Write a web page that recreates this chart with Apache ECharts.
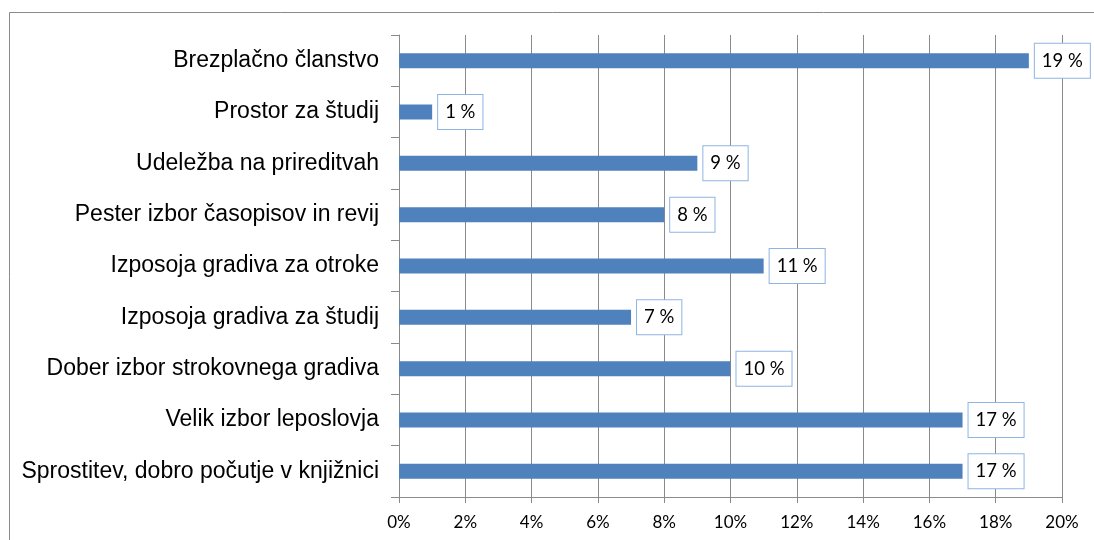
<!DOCTYPE html>
<html>
<head>
<meta charset="utf-8">
<script src="https://cdn.jsdelivr.net/npm/echarts@6/dist/echarts.min.js"></script>
<style>
  html, body { margin: 0; padding: 0; background: #fff; }
  #chart { width: 1094px; height: 540px; }
</style>
</head>
<body>
<div id="chart"></div>
<script>
// podatki
var categories = [
  "Brezplačno članstvo",
  "Prostor za študij",
  "Udeležba na prireditvah",
  "Pester izbor časopisov in revij",
  "Izposoja gradiva za otroke",
  "Izposoja gradiva za študij",
  "Dober izbor strokovnega gradiva",
  "Velik izbor leposlovja",
  "Sprostitev, dobro počutje v knjižnici"
];
var values = [19, 1, 9, 8, 11, 7, 10, 17, 17];
var axisMin = 0;
var axisMax = 20;
var axisStep = 2;

var myChart = echarts.init(document.getElementById("chart"));

myChart.setOption({
  animation: false,
  grid: {
    left: 399,
    right: 32,
    top: 35,
    bottom: 43,
  },
  // okvir grafikona
  graphic: [
    {
      type: "rect",
      shape: { x: 9.5, y: 12.5, width: 1200, height: 700 },
      style: { fill: "none", stroke: "#8a8a8a", lineWidth: 1 },
      silent: true,
    },
  ],
  xAxis: {
    type: "value",
    min: axisMin,
    max: axisMax,
    interval: axisStep,
    axisLine: { show: true, lineStyle: { color: "#8a8a8a" } },
    axisTick: { show: true, length: 6, lineStyle: { color: "#8a8a8a" } },
    splitLine: { show: true, lineStyle: { color: "#8a8a8a", width: 1 } },
    axisLabel: {
      formatter: "{value}%",
      color: "#000",
      fontSize: 17,
      fontFamily: "Lato",
      margin: 17,
    },
  },
  yAxis: {
    type: "category",
    inverse: true,
    data: categories,
    axisLine: { show: true, lineStyle: { color: "#8a8a8a" } },
    axisTick: { show: true, length: 8, lineStyle: { color: "#8a8a8a" } },
    axisLabel: {
      color: "#000",
      fontSize: 23,
      fontFamily: "Liberation Sans",
      margin: 20,
    },
  },
  series: [
    {
      type: "bar",
      data: values,
      barWidth: 15,
      itemStyle: { color: "#4f81bd" },
      label: {
        show: true,
        position: "right",
        distance: 6,
        formatter: "{c} %",
        color: "#000",
        fontSize: 18.5,
        fontFamily: "Lato",
        backgroundColor: "#fff",
        borderColor: "#8eb4e3",
        borderWidth: 1,
        padding: [8, 7, 7, 7],
      },
    },
  ],
});
</script>
</body>
</html>
